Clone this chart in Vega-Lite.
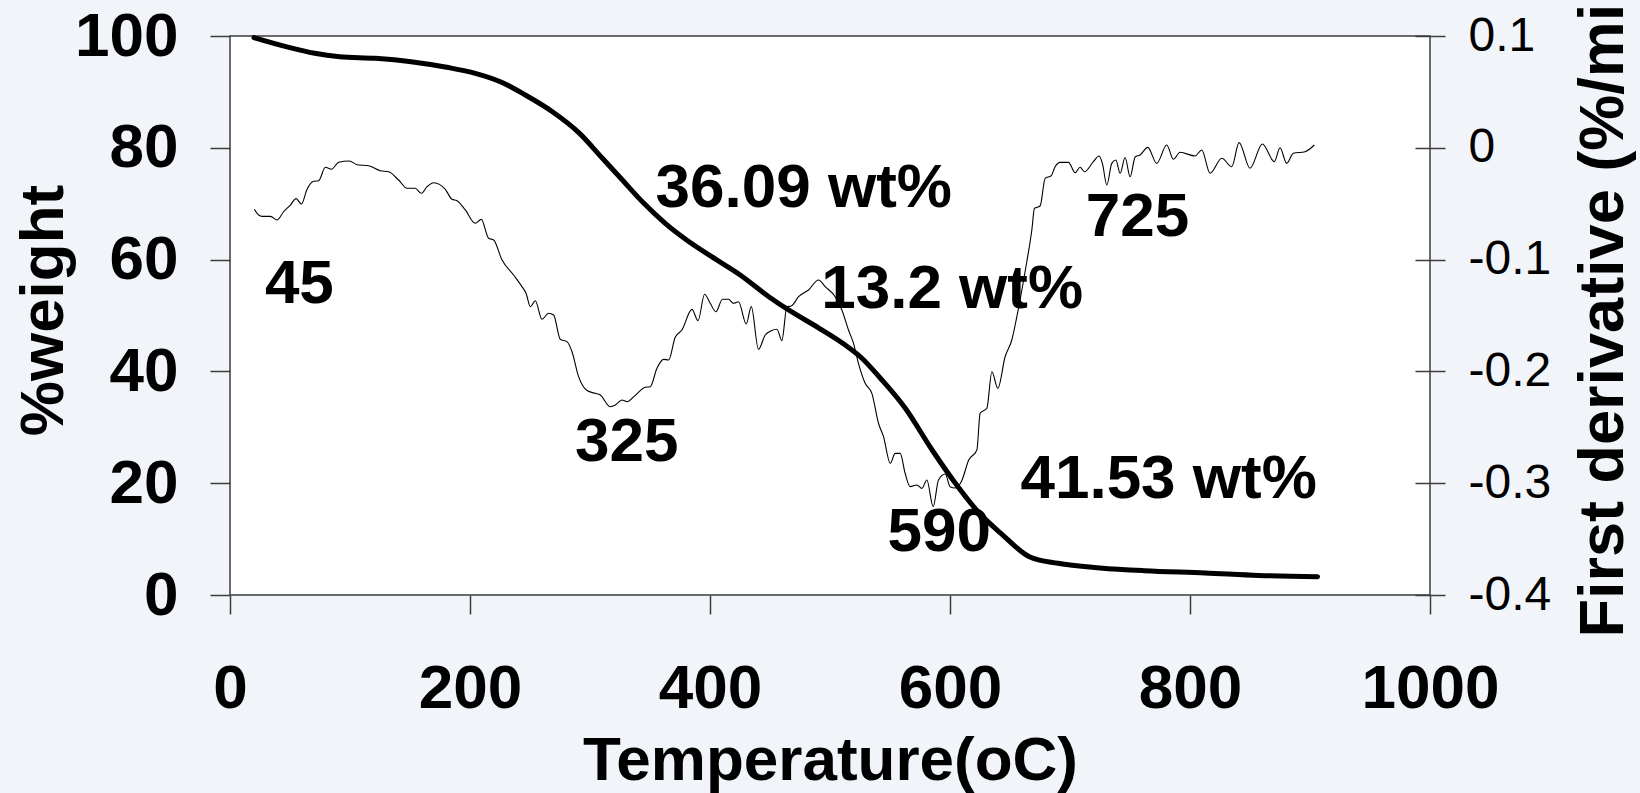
{
  "$schema": "https://vega.github.io/schema/vega-lite/v6.json",
  "width": 1200,
  "height": 559,
  "autosize": {"type": "none"},
  "padding": {"left": 230, "top": 36, "right": 210, "bottom": 198},
  "background": "#f1f4f9",
  "config": {
    "view": {"fill": "white", "stroke": "#3c3c3c", "strokeWidth": 1.5},
    "font": "Liberation Sans",
    "axis": {
      "grid": false,
      "tickColor": "#3c3c3c",
      "tickWidth": 1.5,
      "labelColor": "black",
      "titleColor": "black",
      "labelFont": "Liberation Sans",
      "titleFont": "Liberation Sans"
    }
  },
  "datasets": {
    "tg": [
      {"T": 20.0, "w": 99.70}, {"T": 46.7, "w": 98.09}, {"T": 70.6, "w": 96.90}, {"T": 91.4, "w": 96.30},
      {"T": 121.1, "w": 96.01}, {"T": 150.9, "w": 95.40}, {"T": 180.6, "w": 94.40}, {"T": 204.4, "w": 93.33},
      {"T": 225.3, "w": 91.83}, {"T": 246.1, "w": 89.45}, {"T": 268.4, "w": 86.50}, {"T": 291.3, "w": 82.59},
      {"T": 309.2, "w": 78.41}, {"T": 327.0, "w": 74.24}, {"T": 344.9, "w": 70.07}, {"T": 362.7, "w": 66.49},
      {"T": 380.5, "w": 63.51}, {"T": 401.4, "w": 60.52}, {"T": 425.2, "w": 57.25}, {"T": 449.0, "w": 53.36},
      {"T": 466.8, "w": 50.81}, {"T": 490.7, "w": 47.76}, {"T": 511.5, "w": 44.90}, {"T": 526.4, "w": 42.40},
      {"T": 541.8, "w": 38.82}, {"T": 562.6, "w": 33.45}, {"T": 585.1, "w": 25.94}, {"T": 604.3, "w": 20.04},
      {"T": 624.3, "w": 14.67}, {"T": 642.4, "w": 11.04}, {"T": 666.2, "w": 6.85}, {"T": 690.0, "w": 5.67},
      {"T": 725.1, "w": 4.85}, {"T": 762.0, "w": 4.35}, {"T": 812.6, "w": 3.95}, {"T": 857.2, "w": 3.50},
      {"T": 906.3, "w": 3.27}
    ],
    "dtg": [
      {"T": 20.3, "d": -0.0550}, {"T": 23.9, "d": -0.0601}, {"T": 26.7, "d": -0.0613}, {"T": 33.7, "d": -0.0613},
      {"T": 39.2, "d": -0.0646}, {"T": 44.7, "d": -0.0572}, {"T": 50.3, "d": -0.0512}, {"T": 55.1, "d": -0.0455},
      {"T": 59.5, "d": -0.0503}, {"T": 64.2, "d": -0.0371}, {"T": 69.7, "d": -0.0300}, {"T": 73.9, "d": -0.0294},
      {"T": 79.5, "d": -0.0174}, {"T": 84.5, "d": -0.0192}, {"T": 90.6, "d": -0.0130}, {"T": 99.5, "d": -0.0118},
      {"T": 105.9, "d": -0.0151}, {"T": 115.5, "d": -0.0160}, {"T": 125.3, "d": -0.0205}, {"T": 132.2, "d": -0.0214},
      {"T": 140.5, "d": -0.0288}, {"T": 147.5, "d": -0.0362}, {"T": 154.4, "d": -0.0362}, {"T": 159.4, "d": -0.0407},
      {"T": 164.2, "d": -0.0348}, {"T": 169.7, "d": -0.0312}, {"T": 179.4, "d": -0.0371}, {"T": 185.0, "d": -0.0461},
      {"T": 189.2, "d": -0.0473}, {"T": 196.1, "d": -0.0556}, {"T": 204.4, "d": -0.0675}, {"T": 209.4, "d": -0.0640},
      {"T": 215.5, "d": -0.0809}, {"T": 219.7, "d": -0.0825}, {"T": 226.7, "d": -0.1004}, {"T": 236.3, "d": -0.1138},
      {"T": 243.3, "d": -0.1242}, {"T": 246.7, "d": -0.1301}, {"T": 250.3, "d": -0.1421}, {"T": 254.4, "d": -0.1368},
      {"T": 260.0, "d": -0.1534}, {"T": 265.5, "d": -0.1480}, {"T": 269.7, "d": -0.1496}, {"T": 275.2, "d": -0.1713},
      {"T": 280.8, "d": -0.1734}, {"T": 285.0, "d": -0.1824}, {"T": 290.5, "d": -0.2047}, {"T": 297.5, "d": -0.2171},
      {"T": 304.4, "d": -0.2196}, {"T": 308.6, "d": -0.2211}, {"T": 316.9, "d": -0.2316}, {"T": 321.1, "d": -0.2301},
      {"T": 326.6, "d": -0.2256}, {"T": 330.8, "d": -0.2271}, {"T": 337.7, "d": -0.2214}, {"T": 346.1, "d": -0.2142},
      {"T": 350.2, "d": -0.2137}, {"T": 355.8, "d": -0.1972}, {"T": 361.3, "d": -0.1892}, {"T": 365.5, "d": -0.1898},
      {"T": 371.0, "d": -0.1695}, {"T": 376.6, "d": -0.1630}, {"T": 385.0, "d": -0.1445}, {"T": 390.0, "d": -0.1547},
      {"T": 395.5, "d": -0.1310}, {"T": 400.2, "d": -0.1391}, {"T": 404.9, "d": -0.1466}, {"T": 410.4, "d": -0.1355},
      {"T": 415.4, "d": -0.1355}, {"T": 419.6, "d": -0.1391}, {"T": 423.8, "d": -0.1377}, {"T": 430.2, "d": -0.1576},
      {"T": 434.4, "d": -0.1421}, {"T": 440.4, "d": -0.1802}, {"T": 446.0, "d": -0.1674}, {"T": 451.0, "d": -0.1636},
      {"T": 455.8, "d": -0.1623}, {"T": 459.9, "d": -0.1725}, {"T": 464.1, "d": -0.1421}, {"T": 467.7, "d": -0.1415},
      {"T": 473.8, "d": -0.1332}, {"T": 482.1, "d": -0.1272}, {"T": 490.4, "d": -0.1182}, {"T": 496.0, "d": -0.1242},
      {"T": 504.3, "d": -0.1332}, {"T": 509.9, "d": -0.1451}, {"T": 515.4, "d": -0.1630}, {"T": 519.6, "d": -0.1749},
      {"T": 523.7, "d": -0.1928}, {"T": 529.3, "d": -0.2106}, {"T": 534.9, "d": -0.2196}, {"T": 540.4, "d": -0.2464},
      {"T": 544.6, "d": -0.2584}, {"T": 550.2, "d": -0.2822}, {"T": 554.3, "d": -0.2733}, {"T": 558.5, "d": -0.2733},
      {"T": 562.6, "d": -0.2911}, {"T": 566.8, "d": -0.3031}, {"T": 572.4, "d": -0.3016}, {"T": 576.6, "d": -0.3046},
      {"T": 580.7, "d": -0.2971}, {"T": 586.0, "d": -0.3210}, {"T": 590.4, "d": -0.2971}, {"T": 596.0, "d": -0.2918},
      {"T": 600.1, "d": -0.3031}, {"T": 604.3, "d": -0.3043}, {"T": 609.7, "d": -0.2980}, {"T": 615.6, "d": -0.2793},
      {"T": 622.4, "d": -0.2703}, {"T": 625.1, "d": -0.2375}, {"T": 630.7, "d": -0.2330}, {"T": 634.9, "d": -0.2003},
      {"T": 639.9, "d": -0.2151}, {"T": 645.9, "d": -0.1869}, {"T": 651.5, "d": -0.1719}, {"T": 655.7, "d": -0.1511},
      {"T": 659.9, "d": -0.1272}, {"T": 664.0, "d": -0.1019}, {"T": 668.2, "d": -0.0735}, {"T": 670.4, "d": -0.0541},
      {"T": 675.1, "d": -0.0521}, {"T": 679.3, "d": -0.0273}, {"T": 684.3, "d": -0.0250}, {"T": 687.6, "d": -0.0169},
      {"T": 691.8, "d": -0.0130}, {"T": 698.7, "d": -0.0130}, {"T": 704.3, "d": -0.0223}, {"T": 708.4, "d": -0.0174},
      {"T": 712.0, "d": -0.0214}, {"T": 719.5, "d": -0.0124}, {"T": 724.3, "d": -0.0073}, {"T": 727.0, "d": -0.0139},
      {"T": 730.7, "d": -0.0333}, {"T": 734.8, "d": -0.0139}, {"T": 738.2, "d": -0.0109}, {"T": 741.8, "d": -0.0228},
      {"T": 745.9, "d": -0.0087}, {"T": 750.1, "d": -0.0259}, {"T": 754.3, "d": -0.0082}, {"T": 758.4, "d": -0.0064},
      {"T": 764.8, "d": 0.0004}, {"T": 772.3, "d": -0.0139}, {"T": 780.6, "d": 0.0025}, {"T": 786.2, "d": -0.0103},
      {"T": 791.7, "d": -0.0040}, {"T": 804.2, "d": -0.0073}, {"T": 809.8, "d": -0.0020}, {"T": 816.7, "d": -0.0228},
      {"T": 826.5, "d": -0.0094}, {"T": 834.8, "d": -0.0169}, {"T": 840.9, "d": 0.0046}, {"T": 850.0, "d": -0.0183},
      {"T": 860.3, "d": 0.0034}, {"T": 870.3, "d": -0.0124}, {"T": 875.0, "d": 0.0001}, {"T": 880.6, "d": -0.0139},
      {"T": 886.1, "d": -0.0049}, {"T": 895.9, "d": -0.0035}, {"T": 903.6, "d": 0.0025}
    ],
    "notes": [
      {"label": "36.09 wt%", "T": 478.1, "w": 69.4},
      {"label": "13.2 wt%", "T": 601.8, "w": 51.3},
      {"label": "41.53 wt%", "T": 782.2, "w": 17.35},
      {"label": "45", "T": 57.8, "w": 52.2},
      {"label": "325", "T": 330.7, "w": 24.0},
      {"label": "590", "T": 591.0, "w": 7.9},
      {"label": "725", "T": 756.3, "w": 64.2}
    ]
  },
  "layer": [
    {
      "data": {"name": "tg"},
      "mark": {"type": "line", "color": "black", "strokeWidth": 5, "interpolate": "monotone", "strokeCap": "round", "strokeJoin": "round"},
      "encoding": {
        "x": {
          "field": "T", "type": "quantitative",
          "scale": {"domain": [0, 1000], "nice": false},
          "axis": {
            "values": [0, 200, 400, 600, 800, 1000], "format": "d",
            "domain": false, "tickSize": 19,
            "labelFontSize": 62, "labelFontWeight": "bold", "labelPadding": 44,
            "labelFlush": false, "labelOverlap": false,
            "title": "Temperature(oC)", "titleFontSize": 62, "titleFontWeight": "bold",
            "titleBaseline": "alphabetic", "titleY": 184
          }
        },
        "y": {
          "field": "w", "type": "quantitative",
          "scale": {"domain": [0, 100], "nice": false},
          "axis": {
            "values": [0, 20, 40, 60, 80, 100], "format": "d",
            "domain": false, "tickSize": 20,
            "labelFontSize": 62, "labelFontWeight": "bold", "labelPadding": 32,
            "labelFlush": false, "labelOverlap": false,
            "title": "%weight", "titleFontSize": 62, "titleFontWeight": "bold",
            "titleAngle": 270, "titleAlign": "center", "titleBaseline": "alphabetic",
            "titleX": -168, "titleY": 274
          }
        }
      }
    },
    {
      "data": {"name": "dtg"},
      "mark": {"type": "line", "color": "black", "strokeWidth": 1.1, "interpolate": "monotone"},
      "encoding": {
        "x": {"field": "T", "type": "quantitative", "scale": {"domain": [0, 1000], "nice": false}},
        "y": {
          "field": "d", "type": "quantitative",
          "scale": {"domain": [-0.4, 0.1], "nice": false, "zero": false},
          "axis": {
            "orient": "right",
            "values": [-0.4, -0.3, -0.2, -0.1, 0, 0.1],
            "labelExpr": "datum.value === 0 ? '0' : (datum.value < 0 ? '-' : '') + format(abs(datum.value), '.1f')",
            "domain": false, "offset": -15, "tickSize": 30,
            "labelFontSize": 48, "labelFontWeight": "normal", "labelPadding": 23,
            "labelFlush": false, "labelOverlap": false,
            "title": "First derivative (%/min)", "titleFontSize": 63, "titleFontWeight": "bold",
            "titleAngle": 270, "titleAlign": "left", "titleBaseline": "alphabetic",
            "titleX": 207, "titleY": 601
          }
        }
      }
    },
    {
      "data": {"name": "notes"},
      "mark": {"type": "text", "fontSize": 62, "fontWeight": "bold", "align": "center", "baseline": "alphabetic", "color": "black", "font": "Liberation Sans"},
      "encoding": {
        "x": {"field": "T", "type": "quantitative", "scale": {"domain": [0, 1000], "nice": false}},
        "y": {"field": "w", "type": "quantitative", "scale": {"domain": [0, 100], "nice": false}, "axis": null},
        "text": {"field": "label"}
      }
    }
  ],
  "resolve": {"scale": {"y": "independent"}}
}
